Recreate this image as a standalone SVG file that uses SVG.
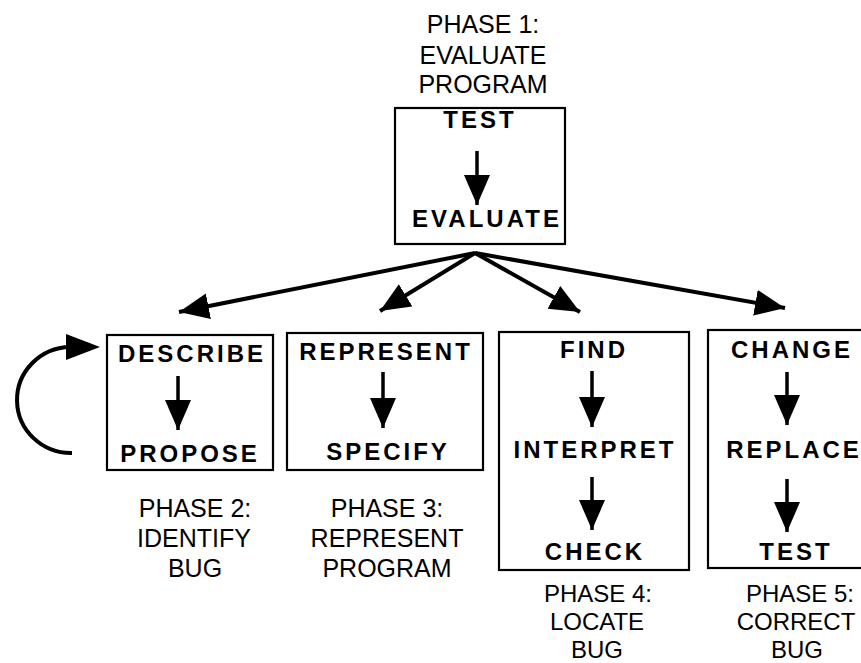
<svg xmlns="http://www.w3.org/2000/svg" width="861" height="663" viewBox="0 0 861 663">
<style>
.box{fill:#fff;stroke:#000;stroke-width:2.2}
.b{font-family:"Liberation Sans",Arial,sans-serif;font-weight:bold;font-size:24px;letter-spacing:3px;text-anchor:middle;fill:#000}
.l{font-family:"Liberation Sans",Arial,sans-serif;font-size:25px;text-anchor:middle;fill:#000}
.s{font-size:24px}
.ln{stroke:#000;stroke-width:4;fill:none}
.sh{stroke:#000;stroke-width:3.5;fill:none}
</style>
<defs>
<marker id="big" markerUnits="userSpaceOnUse" markerWidth="32" markerHeight="28" refX="30" refY="13" orient="auto">
<path d="M0,0 L30,13 L0,26 Z" fill="#000"/>
</marker>
<marker id="sm" markerUnits="userSpaceOnUse" markerWidth="32" markerHeight="28" refX="30" refY="13" orient="auto">
<path d="M0,0 L30,13 L0,26 Z" fill="#000"/>
</marker>
</defs>
<rect width="861" height="663" fill="#fff"/>

<g id="phase1">
<text class="l" x="483" y="33">PHASE 1:</text>
<text class="l" x="483" y="64">EVALUATE</text>
<text class="l" x="483" y="93">PROGRAM</text>
<rect class="box" x="395" y="108" width="170" height="136"/>
<text class="b" x="480" y="128">TEST</text>
<line class="sh" x1="477" y1="151" x2="477" y2="205" marker-end="url(#sm)"/>
<text class="b" x="487" y="227">EVALUATE</text>
</g>

<g id="phase2">
<rect class="box" x="107" y="335" width="166" height="135"/>
<text class="b" x="192" y="362">DESCRIBE</text>
<line class="sh" x1="178" y1="376" x2="178" y2="430" marker-end="url(#sm)"/>
<text class="b" x="190" y="462">PROPOSE</text>
<text class="l" x="195" y="517">PHASE 2:</text>
<text class="l" x="194" y="547">IDENTIFY</text>
<text class="l" x="195" y="577">BUG</text>
</g>

<g id="phase3">
<rect class="box" x="287" y="333" width="196" height="137"/>
<text class="b" x="386" y="360">REPRESENT</text>
<line class="sh" x1="383" y1="372" x2="383" y2="428" marker-end="url(#sm)"/>
<text class="b" x="388" y="460">SPECIFY</text>
<text class="l" x="387" y="517">PHASE 3:</text>
<text class="l" x="387" y="547">REPRESENT</text>
<text class="l" x="387" y="577">PROGRAM</text>
</g>

<g id="phase4">
<rect class="box" x="499" y="332" width="190" height="238"/>
<text class="b" x="594" y="358">FIND</text>
<line class="sh" x1="592" y1="371" x2="592" y2="427" marker-end="url(#sm)"/>
<text class="b" x="595" y="458">INTERPRET</text>
<line class="sh" x1="592" y1="477" x2="592" y2="530" marker-end="url(#sm)"/>
<text class="b" x="595" y="560">CHECK</text>
<text class="l s" x="598" y="602">PHASE 4:</text>
<text class="l s" x="597" y="630">LOCATE</text>
<text class="l s" x="597" y="658">BUG</text>
</g>

<g id="phase5">
<rect class="box" x="708" y="330" width="170" height="238"/>
<text class="b" x="792" y="358">CHANGE</text>
<line class="sh" x1="787" y1="372" x2="787" y2="425" marker-end="url(#sm)"/>
<text class="b" x="794" y="458">REPLACE</text>
<line class="sh" x1="787" y1="479" x2="787" y2="532" marker-end="url(#sm)"/>
<text class="b" x="796" y="560">TEST</text>
<text class="l s" x="800" y="602">PHASE 5:</text>
<text class="l s" x="796" y="630">CORRECT</text>
<text class="l s" x="797" y="658">BUG</text>
</g>

<g id="connectors">
<line class="ln" x1="475" y1="253" x2="179" y2="312" marker-end="url(#big)"/>
<line class="ln" x1="475" y1="253" x2="380" y2="311" marker-end="url(#big)"/>
<line class="ln" x1="475" y1="253" x2="580" y2="312" marker-end="url(#big)"/>
<line class="ln" x1="475" y1="253" x2="785" y2="308" marker-end="url(#big)"/>
<path class="ln" d="M72,453 A54,53 0 0 1 70,347"/>
<path d="M66,334 L100,347 L66,360 Z" fill="#000"/>
</g>
</svg>
